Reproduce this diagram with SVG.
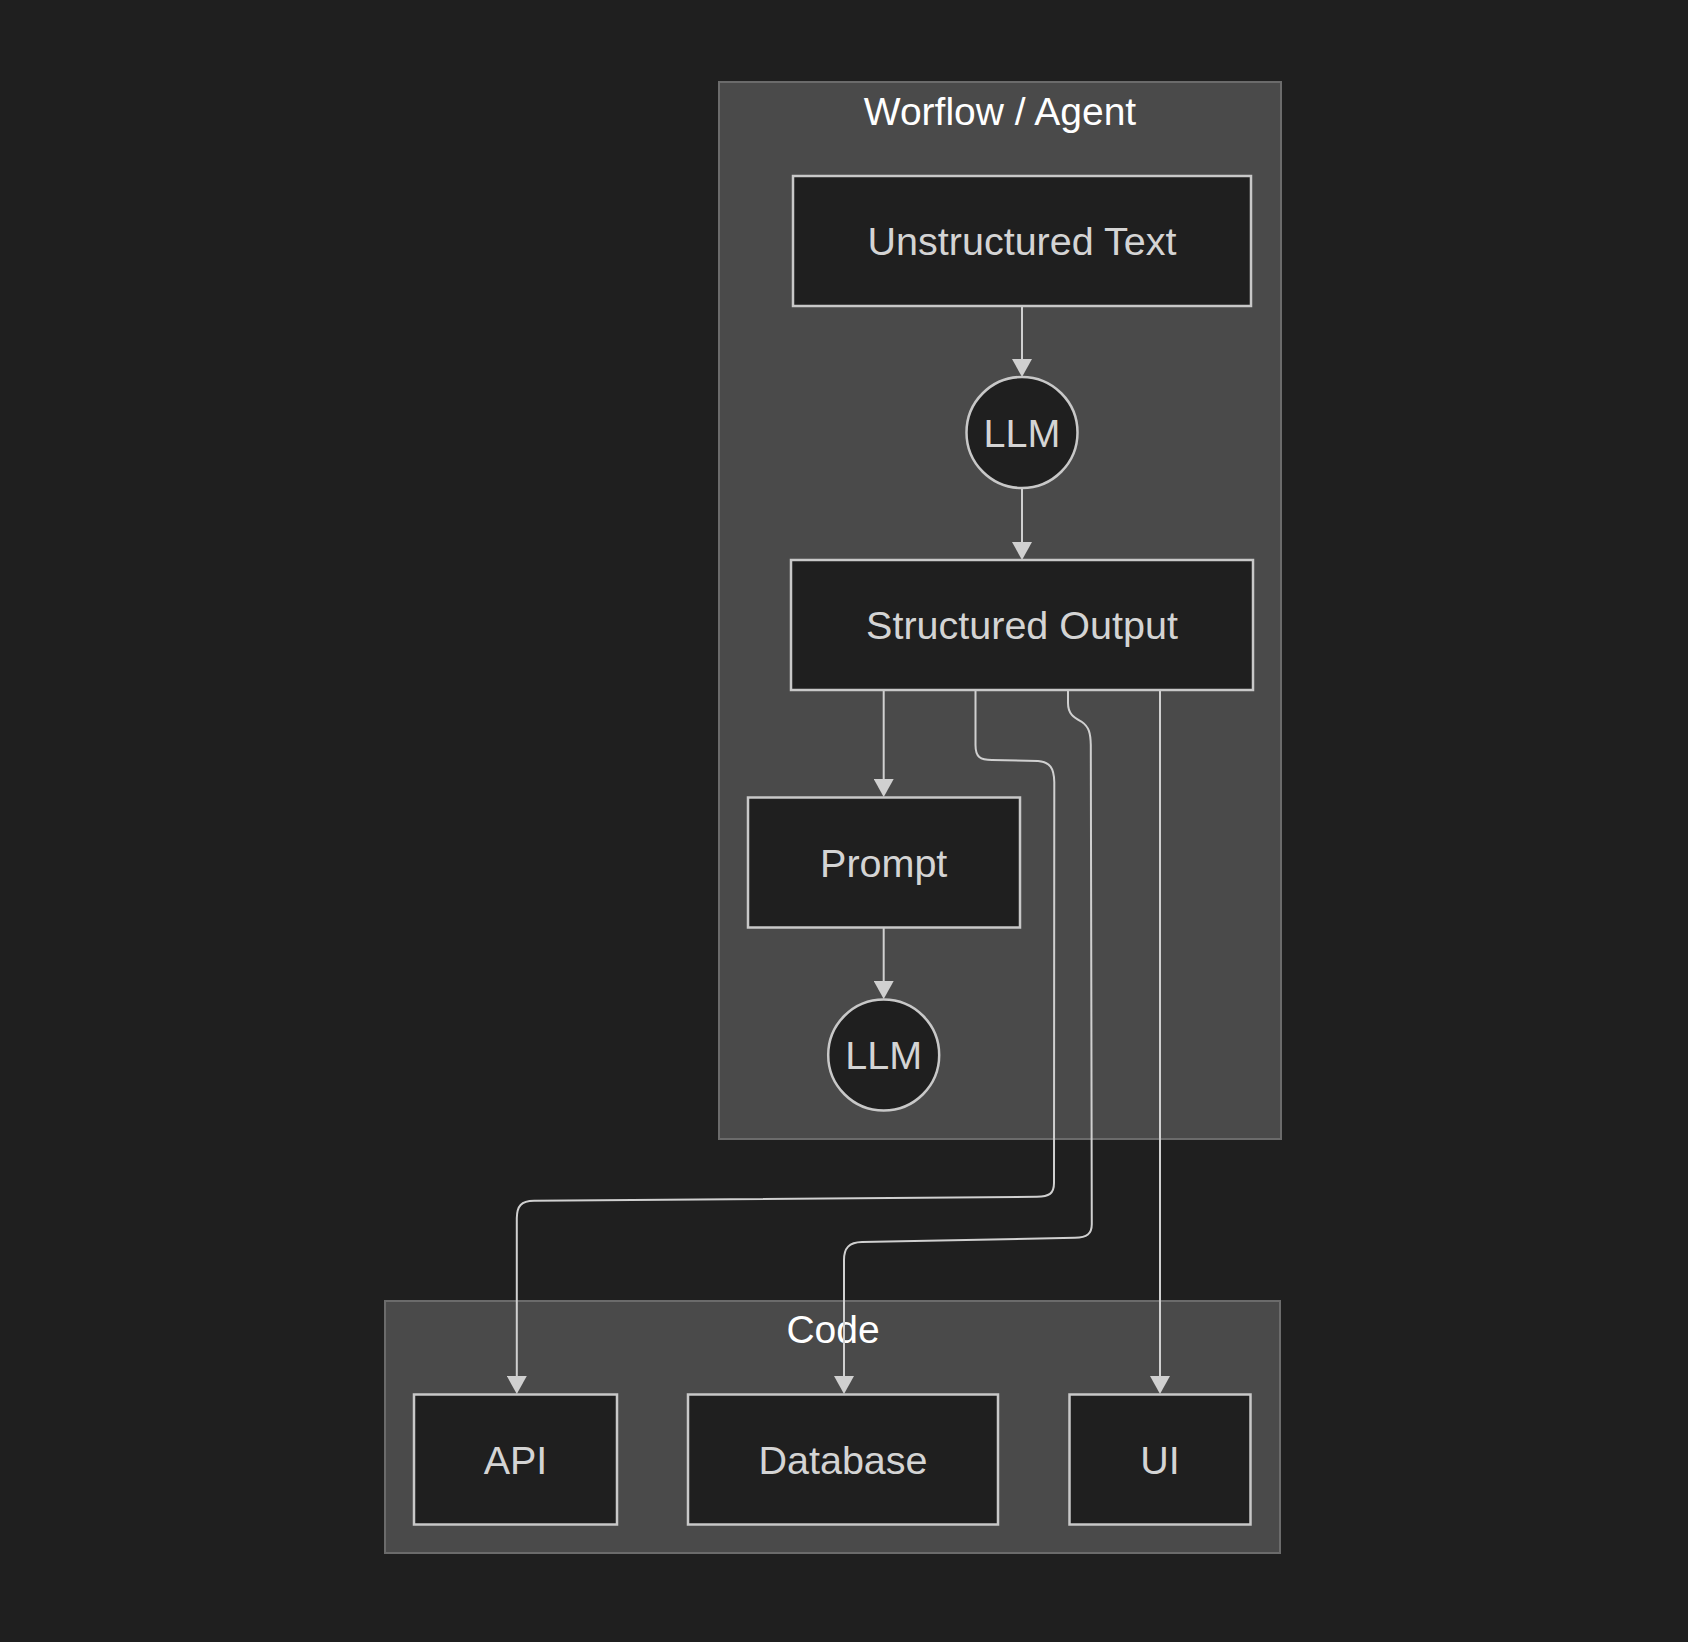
<svg xmlns="http://www.w3.org/2000/svg" width="1688" height="1642" viewBox="0 0 1688 1642">
<style>
.cluster{fill:#4a4a4a;stroke:#6b6b6b;stroke-width:2}
.ctitle{font-family:"Liberation Sans",Arial,sans-serif;font-size:39px;fill:#ffffff;text-anchor:middle}
.node{fill:#1f1f1f;stroke:#c8c8c8;stroke-width:2.5}
.label{font-family:"Liberation Sans",Arial,sans-serif;font-size:39.5px;fill:#d4d4d4;text-anchor:middle}
.edge{fill:none;stroke:#d0d0d0;stroke-width:2;marker-end:url(#arrow)}
</style>
<defs>
<marker id="arrow" viewBox="0 0 10 10" refX="0" refY="5" markerWidth="18" markerHeight="20" markerUnits="userSpaceOnUse" orient="auto" preserveAspectRatio="none">
<path d="M0,0 L10,5 L0,10 z" fill="#d0d0d0"/>
</marker>
</defs>
<rect width="1688" height="1642" fill="#1f1f1f"/>

<g id="cluster-workflow">
<rect class="cluster" x="719" y="82" width="562" height="1057"/>
<text class="ctitle" x="1000" y="125">Worflow / Agent</text>
</g>
<g id="cluster-code">
<rect class="cluster" x="385" y="1301" width="895" height="252"/>
<text class="ctitle" x="833" y="1343">Code</text>
</g>

<g id="connectors">
<path class="edge" d="M1022,306 L1022,359"/>
<path class="edge" d="M1022,488 L1022,542"/>
<path class="edge" d="M883.7,690 L883.7,779"/>
<path class="edge" d="M883.7,928 L883.7,981"/>
<path class="edge" d="M975.5,690 L975.5,745 C975.5,757 980,760 992,760 L1038,761 C1050,762 1054,768 1054.3,782 L1054,1183 C1054,1194 1049,1196.5 1037,1196.8 L534,1200.8 C521,1201 517,1206 516.8,1218 L516.8,1376"/>
<path class="edge" d="M1068,690 L1068,703 C1068,715 1075,718 1082,722 C1089,727 1090.5,733 1090.8,745 L1091.8,1224 C1091.8,1234 1087,1237.5 1075,1237.8 L862,1242 C849,1242.3 844,1248 844,1260 L844,1376"/>
<path class="edge" d="M1160,690 L1160,1376"/>
</g>

<g id="node-unstructured">
<rect class="node" x="793" y="176" width="458" height="130"/>
<text class="label" x="1022" y="255">Unstructured Text</text>
</g>
<g id="node-llm1">
<circle class="node" cx="1022" cy="432.5" r="55.5"/>
<text class="label" x="1022" y="447">LLM</text>
</g>
<g id="node-structured">
<rect class="node" x="791" y="560" width="462" height="130"/>
<text class="label" x="1022" y="639">Structured Output</text>
</g>
<g id="node-prompt">
<rect class="node" x="748" y="797.5" width="272" height="130"/>
<text class="label" x="883.7" y="877">Prompt</text>
</g>
<g id="node-llm2">
<circle class="node" cx="883.7" cy="1055" r="55.5"/>
<text class="label" x="883.7" y="1069">LLM</text>
</g>
<g id="node-api">
<rect class="node" x="414" y="1394.5" width="203" height="130"/>
<text class="label" x="515.5" y="1474">API</text>
</g>
<g id="node-database">
<rect class="node" x="688" y="1394.5" width="310" height="130"/>
<text class="label" x="843" y="1474">Database</text>
</g>
<g id="node-ui">
<rect class="node" x="1069.5" y="1394.5" width="181" height="130"/>
<text class="label" x="1160" y="1474">UI</text>
</g>
</svg>
